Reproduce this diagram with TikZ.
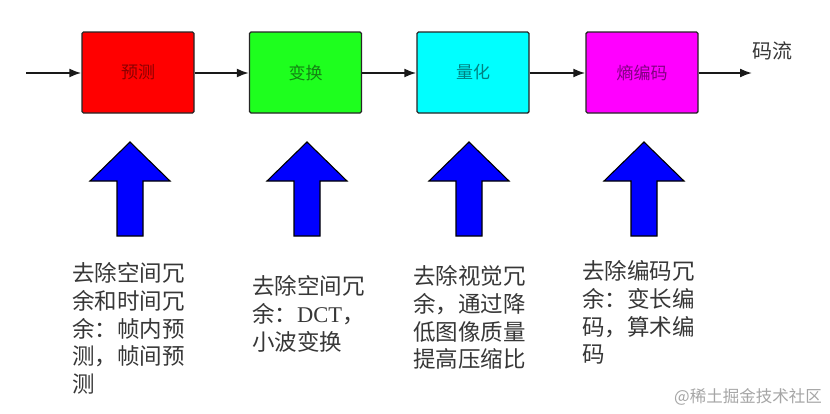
\documentclass[tikz,border=0pt]{standalone}
\usepackage{fontspec}
\newfontfamily\cjk{Noto Sans CJK SC}
\newfontfamily\latinserif{Liberation Serif}
\usetikzlibrary{arrows.meta}
\definecolor{boxred}{RGB}{255,0,0}
\definecolor{boxgreen}{RGB}{30,255,30}
\definecolor{boxcyan}{RGB}{0,255,255}
\definecolor{boxmag}{RGB}{255,0,255}
\definecolor{upblue}{RGB}{0,0,255}
\definecolor{txtgray}{RGB}{55,55,55}
\begin{document}
\begin{tikzpicture}[x=1pt,y=-1pt,
  stagebox/.style={draw=black!85,line width=1.4pt,rounded corners=1.5pt,
    minimum width=112pt,minimum height=81pt,inner sep=0pt,
    font=\cjk\fontsize{17}{20}\selectfont},
  flow/.style={line width=1.8pt,draw=black!90,-{Latex[length=12pt,width=9pt]}},
  uparrow/.style={draw=black,line width=1.1pt,fill=upblue,line join=miter},
  note/.style={anchor=north west,inner sep=0pt,align=left,text=txtgray,
    font=\cjk\fontsize{22.5}{27.9}\selectfont}]
\useasboundingbox (0,0) rectangle (830,413);
\fill[white] (0,0) rectangle (830,413);

% stage boxes
\node[stagebox,fill=boxred,text={rgb,255:red,140;green,0;blue,0}] (pred) at (138,72.5) {预测};
\node[stagebox,fill=boxgreen,text={rgb,255:red,20;green,130;blue,20}] (trans) at (305.5,72.5) {变换};
\node[stagebox,fill=boxcyan,text={rgb,255:red,0;green,130;blue,130}] (quant) at (473,72.5) {量化};
\node[stagebox,fill=boxmag,text={rgb,255:red,130;green,0;blue,130}] (entropy) at (642,72.5) {熵编码};

% flow connectors
\coordinate (in) at (26,73);
\coordinate (out) at (752,73);
\draw[flow] (in) -- (pred.west |- in);
\draw[flow] (pred.east |- in) -- (trans.west |- in);
\draw[flow] (trans.east |- in) -- (quant.west |- in);
\draw[flow] (quant.east |- in) -- (entropy.west |- in);
\draw[flow] (entropy.east |- in) -- (out);
\node[text=txtgray,font=\cjk\fontsize{20}{24}\selectfont,inner sep=0pt] (stream) at (772,51) {码流};

% blue up arrows
\foreach \cx in {130,307,469,644}{
  \draw[uparrow] (\cx,142) -- (\cx+40,181) -- (\cx+13,181) -- (\cx+13,236)
     -- (\cx-13,236) -- (\cx-13,181) -- (\cx-40,181) -- cycle;
}

% notes
\node[note] (n1) at (72,262) {去除空间冗\\余和时间冗\\余：帧内预\\测，帧间预\\测};
\node[note] (n2) at (252,275) {去除空间冗\\余：{\latinserif DCT}，\\小波变换};
\node[note] (n3) at (413,265) {去除视觉冗\\余，通过降\\低图像质量\\提高压缩比};
\node[note] (n4) at (582,260) {去除编码冗\\余：变长编\\码，算术编\\码};

% watermark
\node[anchor=east,inner sep=0pt,text=black!35,font=\cjk\fontsize{16.5}{20}\selectfont] (wm) at (822,397) {@稀土掘金技术社区};
\end{tikzpicture}
\end{document}
